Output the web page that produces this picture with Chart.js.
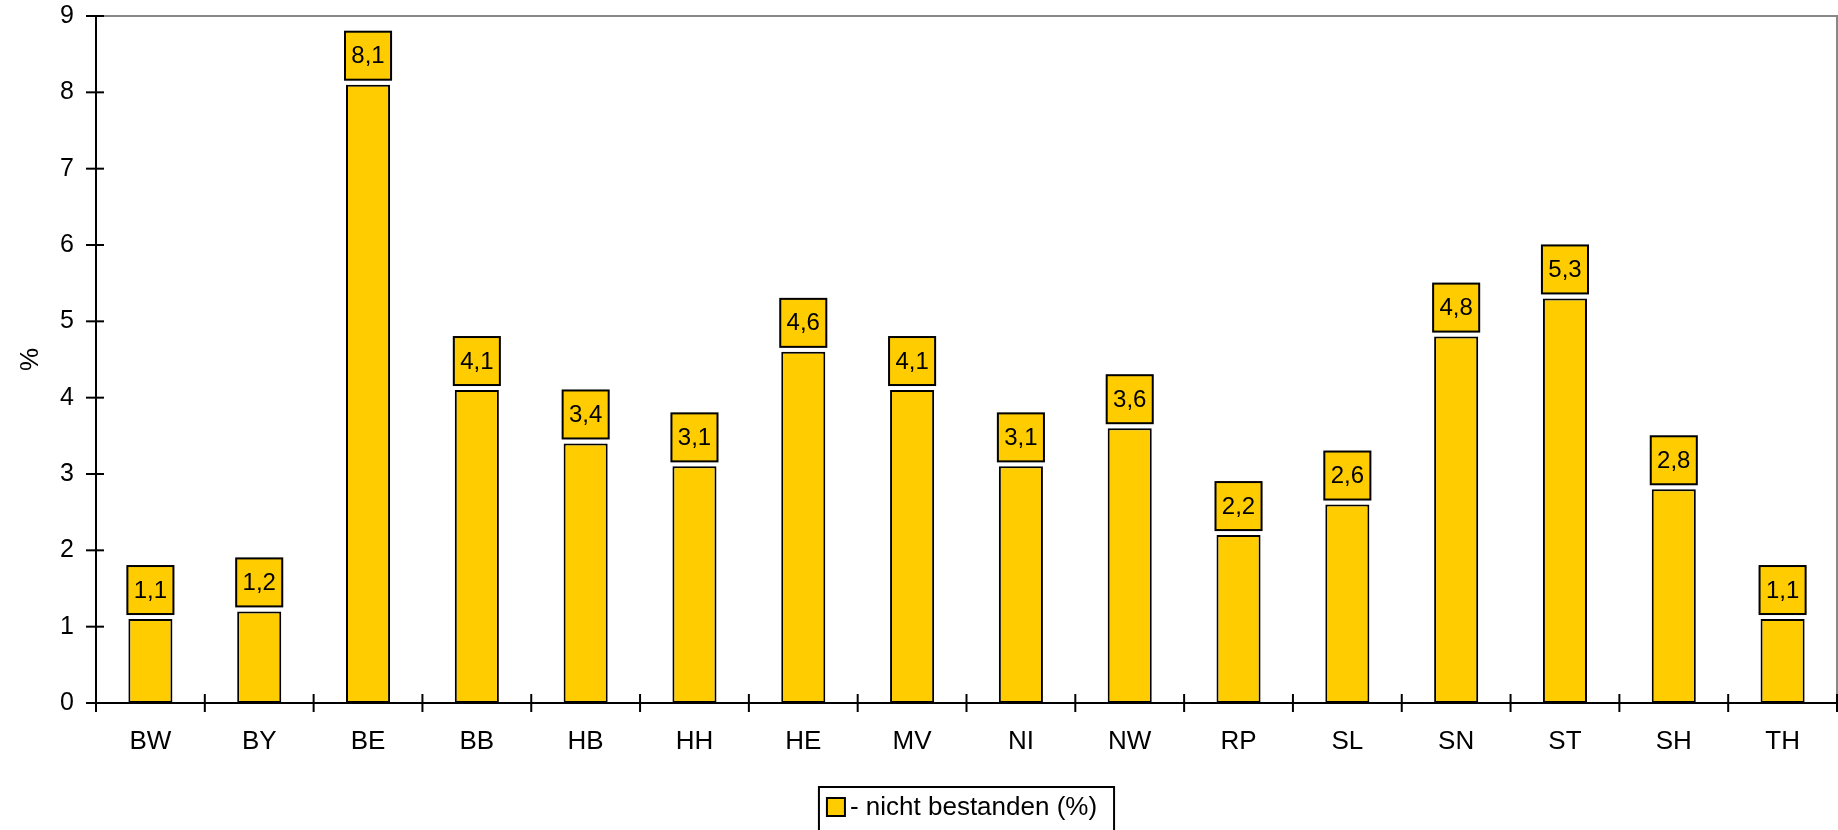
<!DOCTYPE html>
<html>
<head>
<meta charset="utf-8">
<script src="https://cdn.jsdelivr.net/npm/chart.js@4.4.0/dist/chart.umd.min.js"></script>
<style>
  html, body { margin: 0; padding: 0; background: #fff; overflow: hidden; }
  #wrap { width: 1838px; height: 830px; position: relative; }
</style>
</head>
<body>
<div id="wrap"><canvas id="chart"></canvas></div>
<script>
// Daten
const laender = ['BW', 'BY', 'BE', 'BB', 'HB', 'HH', 'HE', 'MV', 'NI', 'NW', 'RP', 'SL', 'SN', 'ST', 'SH', 'TH'];
const nichtBestanden = [1.1, 1.2, 8.1, 4.1, 3.4, 3.1, 4.6, 4.1, 3.1, 3.6, 2.2, 2.6, 4.8, 5.3, 2.8, 1.1];
const yTicks = [0, 1, 2, 3, 4, 5, 6, 7, 8, 9];
const serienName = '- nicht bestanden (%)';

const GELB = '#FFCC00';
const FONT = '"Liberation Sans", Arial, sans-serif';

function fmt(v) {
    return String(v).replace('.', ',');
}

// Rahmen, Achsenstriche, Wertekästchen und Legende
const excelLook = {
    id: 'excelLook',
    beforeDatasetsDraw(chart) {
        const { ctx, chartArea: a } = chart;
        ctx.save();
        ctx.strokeStyle = '#888';
        ctx.lineWidth = 2;
        ctx.beginPath();
        ctx.moveTo(a.left, a.top);
        ctx.lineTo(a.right, a.top);
        ctx.lineTo(a.right, a.bottom);
        ctx.stroke();
        ctx.restore();
    },
    afterDraw(chart) {
        const { ctx, chartArea: a, scales } = chart;
        ctx.save();
        ctx.strokeStyle = '#000';
        ctx.lineWidth = 2;

        // y-Striche (kreuzend)
        scales.y.ticks.forEach(t => {
            const y = scales.y.getPixelForValue(t.value);
            ctx.beginPath();
            ctx.moveTo(a.left - 10, y);
            ctx.lineTo(a.left + 8, y);
            ctx.stroke();
        });

        // x-Striche zwischen den Kategorien
        const step = scales.x.getPixelForValue(1) - scales.x.getPixelForValue(0);
        for (let i = 0; i <= laender.length; i++) {
            const x = scales.x.getPixelForValue(0) - step / 2 + i * step;
            ctx.beginPath();
            ctx.moveTo(x, a.bottom - 9);
            ctx.lineTo(x, a.bottom + 9);
            ctx.stroke();
        }

        // Wertekästchen über den Balken
        const meta = chart.getDatasetMeta(0);
        ctx.font = '24px ' + FONT;
        ctx.textAlign = 'center';
        ctx.textBaseline = 'middle';
        meta.data.forEach((bar, i) => {
            const w = bar.width + 2;
            const h = 48;
            const top = bar.y - 5 - h;
            ctx.fillStyle = GELB;
            ctx.fillRect(bar.x - w / 2, top, w, h);
            ctx.strokeRect(bar.x - w / 2, top, w, h);
            ctx.fillStyle = '#000';
            ctx.fillText(fmt(nichtBestanden[i]), bar.x, top + h / 2 + 1);
        });

        // Legende
        ctx.font = '26px ' + FONT;
        ctx.textAlign = 'left';
        const tw = ctx.measureText(serienName).width;
        const boxW = 31 + tw + 17;
        const cx = (a.left + a.right) / 2;
        const lx = cx - boxW / 2;
        const ly = a.bottom + 84;
        ctx.fillStyle = '#fff';
        ctx.fillRect(lx, ly, boxW, 52);
        ctx.strokeRect(lx, ly, boxW, 52);
        ctx.fillStyle = GELB;
        ctx.fillRect(lx + 8, ly + 11, 18, 18);
        ctx.strokeRect(lx + 8, ly + 11, 18, 18);
        ctx.fillStyle = '#000';
        ctx.fillText(serienName, lx + 31, ly + 21);
        ctx.restore();
    }
};

new Chart(document.getElementById('chart'), {
    type: 'bar',
    data: {
        labels: laender,
        datasets: [{
            label: serienName,
            data: nichtBestanden,
            backgroundColor: GELB,
            borderColor: '#000',
            borderWidth: 2,
            borderSkipped: false,
            barPercentage: 0.405,
            categoryPercentage: 1
        }]
    },
    options: {
        responsive: true,
        maintainAspectRatio: false,
        animation: false,
        layout: { padding: { top: 16, right: 1, bottom: 0, left: 0 } },
        plugins: {
            legend: { display: false },
            tooltip: { enabled: false }
        },
        scales: {
            x: {
                grid: { display: false, drawTicks: false },
                border: { color: '#000', width: 2 },
                ticks: { color: '#000', font: { family: FONT, size: 26 }, padding: 23 },
                afterFit(scale) { scale.height = 127; }
            },
            y: {
                min: 0,
                max: 9,
                afterBuildTicks(scale) { scale.ticks = yTicks.map(v => ({ value: v })); },
                grid: { display: false, drawTicks: false },
                border: { color: '#000', width: 2 },
                ticks: { color: '#000', font: { family: FONT, size: 25 }, padding: 22 },
                title: {
                    display: true,
                    text: '%',
                    color: '#000',
                    font: { family: FONT, size: 26 },
                    padding: { top: 15, bottom: 0 }
                },
                afterFit(scale) {
                    scale.width = 96;
                    scale.paddingTop = 0;
                    scale.paddingBottom = 0;
                }
            }
        }
    },
    plugins: [excelLook]
});
</script>
</body>
</html>
